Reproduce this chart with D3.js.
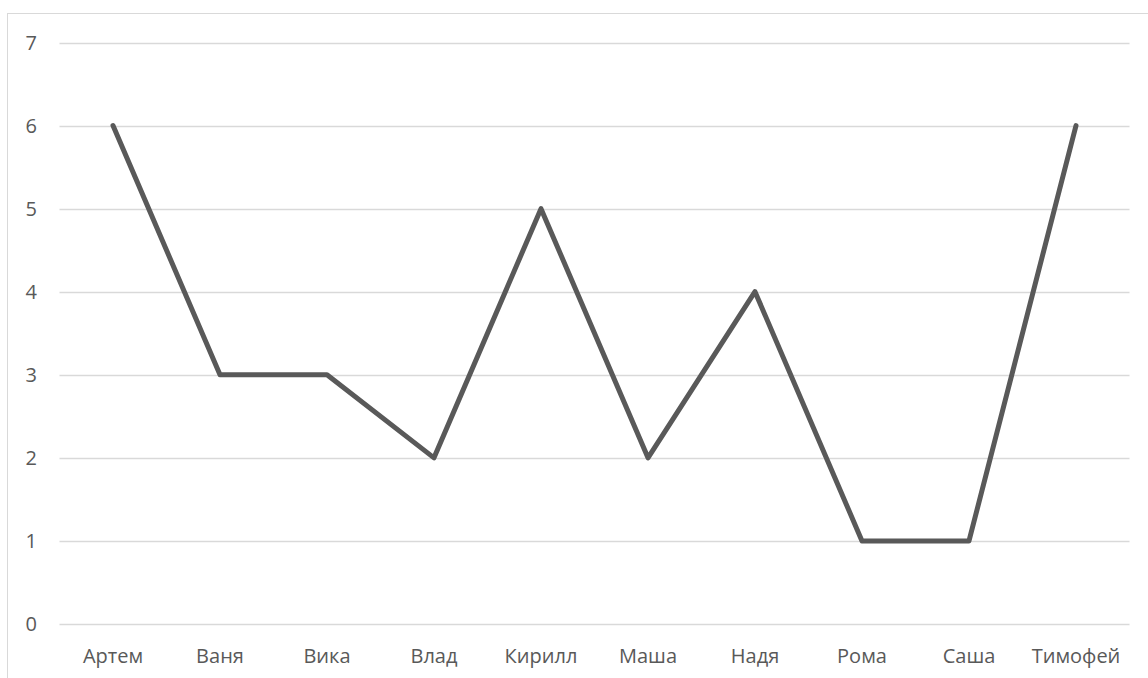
<!DOCTYPE html>
<html>
<head>
<meta charset="utf-8">
<script src="https://cdn.jsdelivr.net/npm/d3@7"></script>
<style>
  body { margin: 0; background: #fff; }
  text { font-family: "Open Sans", "Noto Sans", sans-serif; }
</style>
</head>
<body>
<div id="chart"></div>
<script>
// Chart data
const names = ["Артем", "Ваня", "Вика", "Влад", "Кирилл", "Маша", "Надя", "Рома", "Саша", "Тимофей"];
const values = [6, 3, 3, 2, 5, 2, 4, 1, 1, 6];
const yTicks = [0, 1, 2, 3, 4, 5, 6, 7];

const width = 1148;
const height = 678;
const margin = { top: 42.5, right: 18.5, bottom: 54, left: 59.5 };

const svg = d3.select("#chart")
    .append("svg")
    .attr("width", width)
    .attr("height", height);

// chart frame
svg.append("rect")
    .attr("x", 7.5)
    .attr("y", 13.5)
    .attr("width", width)
    .attr("height", height)
    .attr("fill", "none")
    .attr("stroke", "#d9d9d9")
    .attr("stroke-width", 1);

const x = d3.scaleBand()
    .domain(names)
    .range([margin.left, width - margin.right]);

const y = d3.scaleLinear()
    .domain([0, 7])
    .range([height - margin.bottom, margin.top]);

// Gridlines
svg.append("g")
    .selectAll("line")
    .data(yTicks)
    .join("line")
    .attr("x1", margin.left)
    .attr("x2", width - margin.right)
    .attr("y1", d => Math.round(y(d)) + 0.5)
    .attr("y2", d => Math.round(y(d)) + 0.5)
    .attr("stroke", "#d9d9d9")
    .attr("stroke-width", 1.5);

// Y axis labels
svg.append("g")
    .selectAll("text")
    .data(yTicks)
    .join("text")
    .attr("x", 37)
    .attr("y", d => y(d))
    .attr("dy", "0.36em")
    .attr("text-anchor", "end")
    .attr("fill", "#595959")
    .style("font-size", "20px")
    .text(d => d);

// X axis labels
svg.append("g")
    .selectAll("text")
    .data(names)
    .join("text")
    .attr("x", d => x(d) + x.bandwidth() / 2)
    .attr("y", 663)
    .attr("text-anchor", "middle")
    .attr("fill", "#595959")
    .style("font-size", "20px")
    .text(d => d);

// Line
const line = d3.line()
    .x((d, i) => x(names[i]) + x.bandwidth() / 2)
    .y(d => y(d));

svg.append("path")
    .datum(values)
    .attr("fill", "none")
    .attr("stroke", "#595959")
    .attr("stroke-width", 5)
    .attr("stroke-linejoin", "round")
    .attr("stroke-linecap", "round")
    .attr("d", line);
</script>
</body>
</html>
